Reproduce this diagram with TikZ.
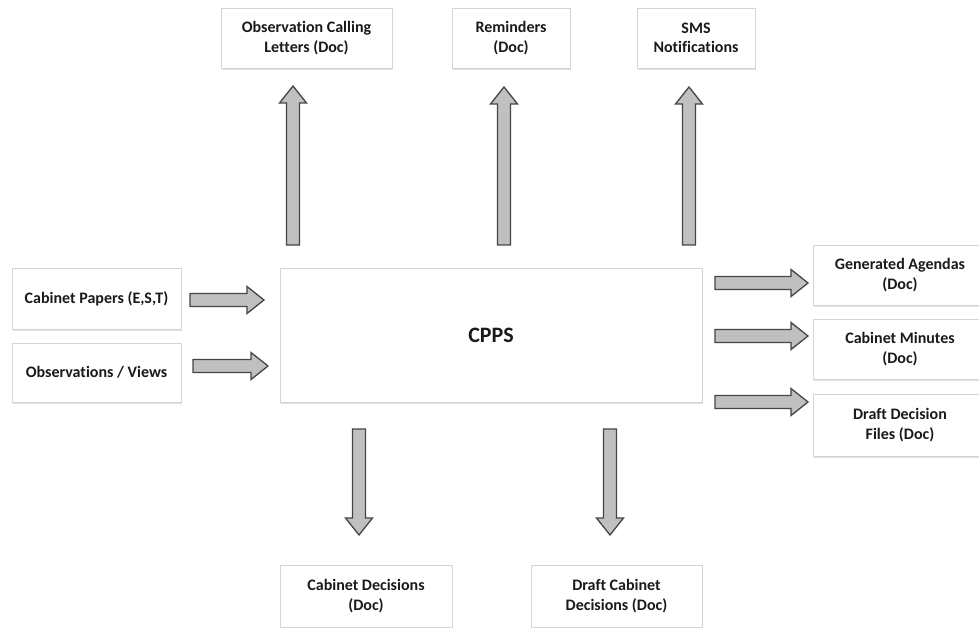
\documentclass[tikz,border=0pt]{standalone}
\usepackage{fontspec}
\setmainfont{Carlito}[Ligatures=NoCommon]
\usetikzlibrary{calc,shadows}

\definecolor{boxline}{HTML}{D4D4D4}
\definecolor{arrowfill}{HTML}{C0C0C0}
\definecolor{arrowline}{HTML}{454545}
\definecolor{inktext}{HTML}{1A1A1A}

\tikzset{
  docbox/.style={draw=boxline, line width=0.8pt, fill=white,
    drop shadow={shadow xshift=0.6pt, shadow yshift=-1.6pt, opacity=0.22, fill=black!55},
    align=center, text=inktext, font=\bfseries\fontsize{16}{19.5}\selectfont,
    inner sep=2pt},
  barrow/.style={draw=arrowline, fill=arrowfill, line width=1.3pt, line join=miter},
  % vertical block arrow from \tikztostart to \tikztotarget
  varrow/.style={barrow, to path={
    let \p1=(\tikztostart), \p2=(\tikztotarget), \n1={sign(\y2-\y1)} in
    ({\x1-6.5pt},{\y1}) -- ({\x1-6.5pt},{\y2-\n1*17pt}) -- ({\x1-13.5pt},{\y2-\n1*17pt})
    -- (\x1,\y2) -- ({\x1+13.5pt},{\y2-\n1*17pt}) -- ({\x1+6.5pt},{\y2-\n1*17pt})
    -- ({\x1+6.5pt},{\y1}) -- cycle}},
  % horizontal block arrow from \tikztostart to \tikztotarget
  harrow/.style={barrow, to path={
    let \p1=(\tikztostart), \p2=(\tikztotarget), \n1={sign(\x2-\x1)} in
    ({\x1},{\y1-6.5pt}) -- ({\x2-\n1*17pt},{\y1-6.5pt}) -- ({\x2-\n1*17pt},{\y1-13.5pt})
    -- (\x2,\y1) -- ({\x2-\n1*17pt},{\y1+13.5pt}) -- ({\x2-\n1*17pt},{\y1+6.5pt})
    -- ({\x1},{\y1+6.5pt}) -- cycle}},
}

\begin{document}
\begin{tikzpicture}[x=1pt,y=-1pt]
  \useasboundingbox (0,0) rectangle (979,628);
  \fill[white] (0,0) rectangle (979,628);

  % central system
  \node[docbox, minimum width=422pt, minimum height=134pt,
        font=\bfseries\fontsize{22}{26}\selectfont] (cpps) at (491,335) {CPPS};

  % outputs above
  \node[docbox, minimum width=171pt, minimum height=60pt] (letters) at (306.5,38)
       {Observation Calling\\Letters (Doc)};
  \node[docbox, minimum width=118pt, minimum height=60pt] (remind) at (511,38)
       {Reminders\\(Doc)};
  \node[docbox, minimum width=118pt, minimum height=60pt] (sms) at (696,38)
       {SMS\\Notifications};

  % inputs on the left
  \node[docbox, minimum width=169pt, minimum height=61pt] (papers) at (96.5,298.5)
       {Cabinet Papers (E,S,T)};
  \node[docbox, minimum width=169pt, minimum height=59pt] (views) at (96.5,372.5)
       {Observations / Views};

  % outputs on the right
  \node[docbox, minimum width=174pt, minimum height=60pt] (agendas) at (900,275)
       {Generated Agendas\\(Doc)};
  \node[docbox, minimum width=174pt, minimum height=60pt] (minutes) at (900,349)
       {Cabinet Minutes\\(Doc)};
  \node[docbox, minimum width=174pt, minimum height=62pt] (dfiles) at (900,425)
       {Draft Decision\\Files (Doc)};

  % outputs below
  \node[docbox, minimum width=172pt, minimum height=62pt] (decis) at (366,596)
       {Cabinet Decisions\\(Doc)};
  \node[docbox, minimum width=171pt, minimum height=62pt] (ddecis) at (616.5,596)
       {Draft Cabinet\\Decisions (Doc)};

  % arrow end points
  \coordinate (u1s) at (293,245);  \coordinate (u1t) at (293,86);
  \coordinate (u2s) at (504,245);  \coordinate (u2t) at (504,87);
  \coordinate (u3s) at (689,245);  \coordinate (u3t) at (689,87);
  \coordinate (l1s) at (190,300);  \coordinate (l1t) at (264,300);
  \coordinate (l2s) at (193,366);  \coordinate (l2t) at (268,366);
  \coordinate (r1s) at (715,283);  \coordinate (r1t) at (808,283);
  \coordinate (r2s) at (715,336);  \coordinate (r2t) at (808,336);
  \coordinate (r3s) at (715,402);  \coordinate (r3t) at (808,402);
  \coordinate (d1s) at (359,429);  \coordinate (d1t) at (359,535);
  \coordinate (d2s) at (610,429);  \coordinate (d2t) at (610,535);

  % block arrows
  \draw[varrow] (u1s) to (u1t);
  \draw[varrow] (u2s) to (u2t);
  \draw[varrow] (u3s) to (u3t);
  \draw[harrow] (l1s) to (l1t);
  \draw[harrow] (l2s) to (l2t);
  \draw[harrow] (r1s) to (r1t);
  \draw[harrow] (r2s) to (r2t);
  \draw[harrow] (r3s) to (r3t);
  \draw[varrow] (d1s) to (d1t);
  \draw[varrow] (d2s) to (d2t);
\end{tikzpicture}
\end{document}
